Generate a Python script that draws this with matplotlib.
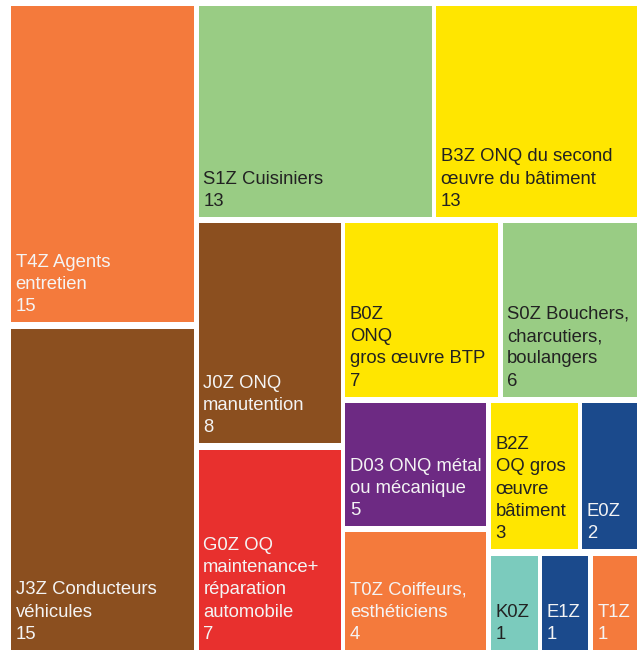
import matplotlib
matplotlib.use("Agg")
import matplotlib.pyplot as plt
from matplotlib.patches import Rectangle

# ---------------- data ----------------
labels = [
    "T4Z Agents\nentretien",
    "J3Z Conducteurs\nvéhicules",
    "S1Z Cuisiniers",
    "B3Z ONQ du second\nœuvre du bâtiment",
    "J0Z ONQ\nmanutention",
    "G0Z OQ\nmaintenance+\nréparation\nautomobile",
    "B0Z\nONQ\ngros œuvre BTP",
    "S0Z Bouchers,\ncharcutiers,\nboulangers",
    "D03 ONQ métal\nou mécanique",
    "T0Z Coiffeurs,\nesthéticiens",
    "B2Z\nOQ gros\nœuvre\nbâtiment",
    "E0Z",
    "K0Z",
    "E1Z",
    "T1Z",
]
values = [15, 15, 13, 13, 8, 7, 7, 6, 5, 4, 3, 2, 1, 1, 1]
# area weights
areas = [14.8, 15.0, 12.6, 10.9, 8.1, 7.4, 6.9, 6.1, 4.6, 4.4, 3.4, 2.2, 1.26, 1.24, 1.2]
groups = ["orange", "brown", "green", "yellow", "brown", "red", "yellow", "green",
          "purple", "orange", "yellow", "blue", "teal", "blue", "orange"]

palette = {
    "orange": "#F47A3C",
    "brown": "#8B4F1F",
    "green": "#99CC84",
    "yellow": "#FFE600",
    "red": "#E8302E",
    "purple": "#6D2A83",
    "blue": "#1B4A8C",
    "teal": "#7BCBBD",
}
dark_text_groups = {"green", "yellow", "teal"}


# ---------------- squarified layout ----------------
def worst(row, side):
    s = sum(row)
    return max(max(side * side * r / (s * s), (s * s) / (side * side * r)) for r in row)


def squarify(sizes, x, y, dx, dy):
    total = sum(sizes)
    vals = [v * dx * dy / total for v in sizes]
    rects = []
    while vals:
        side = min(dx, dy)
        row = [vals[0]]
        i = 1
        while i < len(vals) and worst(row + [vals[i]], side) <= worst(row, side):
            row.append(vals[i])
            i += 1
        s = sum(row)
        if dx >= dy:
            w = s / dy
            yy = y
            for r in row:
                h = r / w
                rects.append((x, yy, w, h))
                yy += h
            x += w
            dx -= w
        else:
            h = s / dx
            xx = x
            for r in row:
                w = r / h
                rects.append((xx, y, w, h))
                xx += w
            y += h
            dy -= h
        vals = vals[i:]
    return rects


LW, LH = 136.0, 100.0
PAD = 0.5

W_PX, H_PX = 639, 650
fig = plt.figure(figsize=(W_PX / 100, H_PX / 100), dpi=100)
fig.patch.set_facecolor("white")
left_px, right_px, top_px, bottom_px = 8.8, 639.3, 2.6, 653.0
ax = fig.add_axes([left_px / W_PX, 1 - bottom_px / H_PX,
                   (right_px - left_px) / W_PX, (bottom_px - top_px) / H_PX])
ax.set_xlim(0, LW)
ax.set_ylim(LH, 0)
ax.axis("off")

rects = squarify(areas, 0, 0, LW, LH)

FONT = ["Liberation Sans", "DejaVu Sans"]
FS = 13.3          # points
LINE = 16.0        # points between baselines
XOFF = 3.2         # points
YOFF = 7.9         # points

for (x, y, w, h), lab, val, g in zip(rects, labels, values, groups):
    x0, y0 = x + PAD, y + PAD
    ww, hh = w - 2 * PAD, h - 2 * PAD
    ax.add_patch(Rectangle((x0, y0), ww, hh, facecolor=palette[g],
                           edgecolor="none", linewidth=0))
    tc = "#222222" if g in dark_text_groups else "#F4F4F4"
    lines = lab.split("\n") + [str(val)]
    n = len(lines)
    for k, line in enumerate(lines):
        ax.annotate(line, xy=(x0, y0 + hh), xycoords="data",
                    xytext=(XOFF, YOFF + (n - 1 - k) * LINE),
                    textcoords="offset points", ha="left", va="baseline",
                    fontsize=FS, color=tc, family=FONT, annotation_clip=False)

fig.savefig("out.png", dpi=100, facecolor="white")
